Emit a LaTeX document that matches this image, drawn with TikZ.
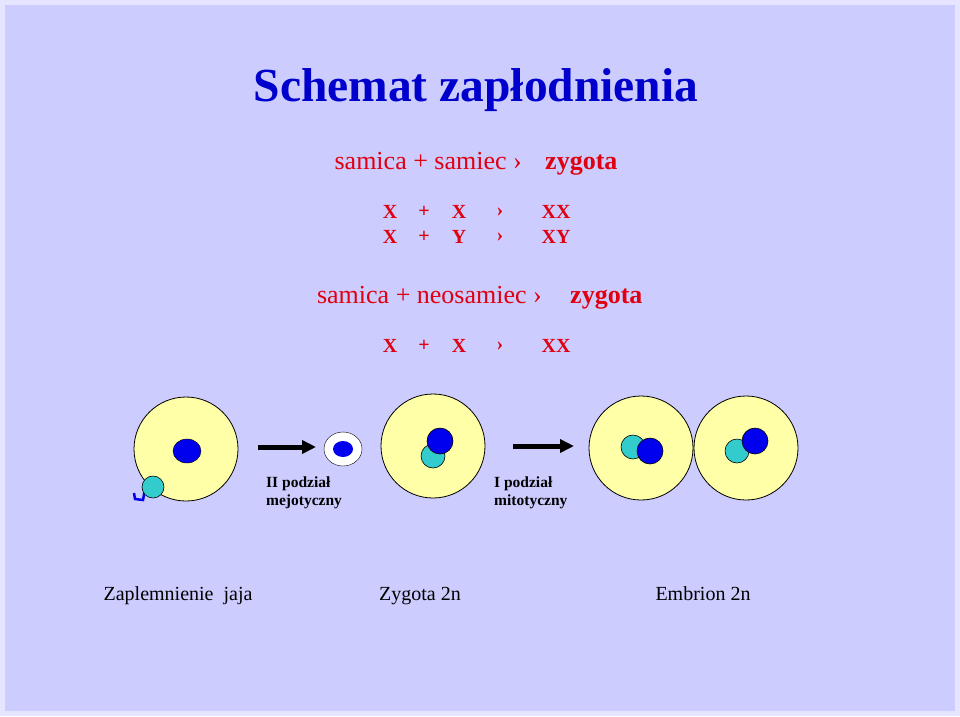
\documentclass[tikz,border=0pt]{standalone}
\usepackage{fontspec}
\setmainfont{Liberation Serif}
\usetikzlibrary{arrows.meta,shapes.geometric}
\definecolor{bg}{HTML}{CCCCFF}
\definecolor{ttl}{HTML}{0000CC}
\definecolor{rd}{HTML}{E00010}
\definecolor{cell}{HTML}{FFFFA8}
\definecolor{nuc}{HTML}{0000EE}
\definecolor{cy}{HTML}{33CCCC}
\tikzset{
  red/.style={text=rd,font=\fontsize{26}{28}\selectfont,inner sep=0pt},
  redz/.style={text=rd,font=\fontsize{26}{28}\selectfont\bfseries,inner sep=0pt},
  redb/.style={text=rd,font=\fontsize{20}{22}\selectfont\bfseries,inner sep=0pt},
  cellc/.style={circle,draw=black,fill=cell,line width=0.8pt,minimum size=104pt,inner sep=0pt},
  bl/.style={circle,draw=black,fill=nuc,line width=0.6pt,minimum size=26pt,inner sep=0pt},
  cyn/.style={circle,draw=black,fill=cy,line width=0.6pt,minimum size=24pt,inner sep=0pt},
  arr/.style={line width=5pt,-{Triangle[length=14pt,width=13pt]}},
  lbl/.style={font=\fontsize{15.5}{17.5}\selectfont\bfseries,align=left,anchor=north west,inner sep=0pt},
  bot/.style={font=\fontsize{20}{22}\selectfont,inner sep=0pt,anchor=base}
}
\begin{document}
\begin{tikzpicture}[x=1pt,y=-1pt]
\fill[white!50!bg] (0,0) rectangle (960,716);
\fill[bg] (5,5) rectangle (955,711);
\useasboundingbox (0,0) rectangle (960,716);
\node[text=ttl,font=\fontsize{47.5}{50}\selectfont\bfseries,inner sep=0pt] (title) at (476,90) {Schemat zapłodnienia};
\node[red,anchor=base east] (l1) at (522,169) {samica + samiec ›};
\node[redz,anchor=base west] (z1) at (545,169) {zygota};
\node[redb] (a1) at (390,212) {X}; \node[redb] (a2) at (424,212) {+}; \node[redb] (a3) at (459,212) {X}; \node[redb] (a4) at (500,212) {›}; \node[redb] (a5) at (556,212) {XX};
\node[redb] (b1) at (390,237) {X}; \node[redb] (b2) at (424,237) {+}; \node[redb] (b3) at (459,237) {Y}; \node[redb] (b4) at (500,237) {›}; \node[redb] (b5) at (556,237) {XY};
\node[red,anchor=base east] (l2) at (542,303) {samica + neosamiec ›};
\node[redz,anchor=base west] (z2) at (570,303) {zygota};
\node[redb] (c1) at (390,346) {X}; \node[redb] (c2) at (424,346) {+}; \node[redb] (c3) at (459,346) {X}; \node[redb] (c4) at (500,346) {›}; \node[redb] (c5) at (556,346) {XX};
% cell 1
\node[cellc] (cell1) at (186,449) {};
\node[ellipse,draw=black,fill=nuc,minimum width=28pt,minimum height=24pt,inner sep=0pt] (n1) at (187,451) {};
\draw[nuc,line width=2.5pt] (145,489) -- (143,500) -- (135,499) -- (134,493);
\node[cyn,minimum size=22pt] (s1) at (153,487) {};
% arrow 1
\coordinate (a1s) at (258,447); \coordinate (a1e) at (316,447);
\draw[arr] (a1s) -- (a1e);
\node[ellipse,draw=black,fill=white,minimum width=38pt,minimum height=34pt,inner sep=0pt] (pb) at (343,449) {};
\node[ellipse,fill=nuc,minimum width=20pt,minimum height=16pt,inner sep=0pt] (pbn) at (343,449) {};
\node[lbl] (t1) at (266,477) {II podział\\mejotyczny};
% cell 2
\node[cellc] (cell2) at (433,446) {};
\node[cyn] (c2c) at (433,456) {};
\node[bl] (c2b) at (440,441) {};
\coordinate (a2s) at (513,446); \coordinate (a2e) at (574,446);
\draw[arr] (a2s) -- (a2e);
\node[lbl] (t2) at (494,477) {I podział\\mitotyczny};
% cells 3,4
\node[cellc] (cell3) at (641,448) {};
\node[cyn] (c3c) at (633,447) {};
\node[bl] (c3b) at (650,451) {};
\node[cellc] (cell4) at (746,448) {};
\node[cyn] (c4c) at (737,451) {};
\node[bl] (c4b) at (755,441) {};
% bottom labels
\node[bot] (m1) at (178,600) {Zaplemnienie\ \ jaja};
\node[bot] (m2) at (420,600) {Zygota 2n};
\node[bot] (m3) at (703,600) {Embrion 2n};
\end{tikzpicture}
\end{document}
